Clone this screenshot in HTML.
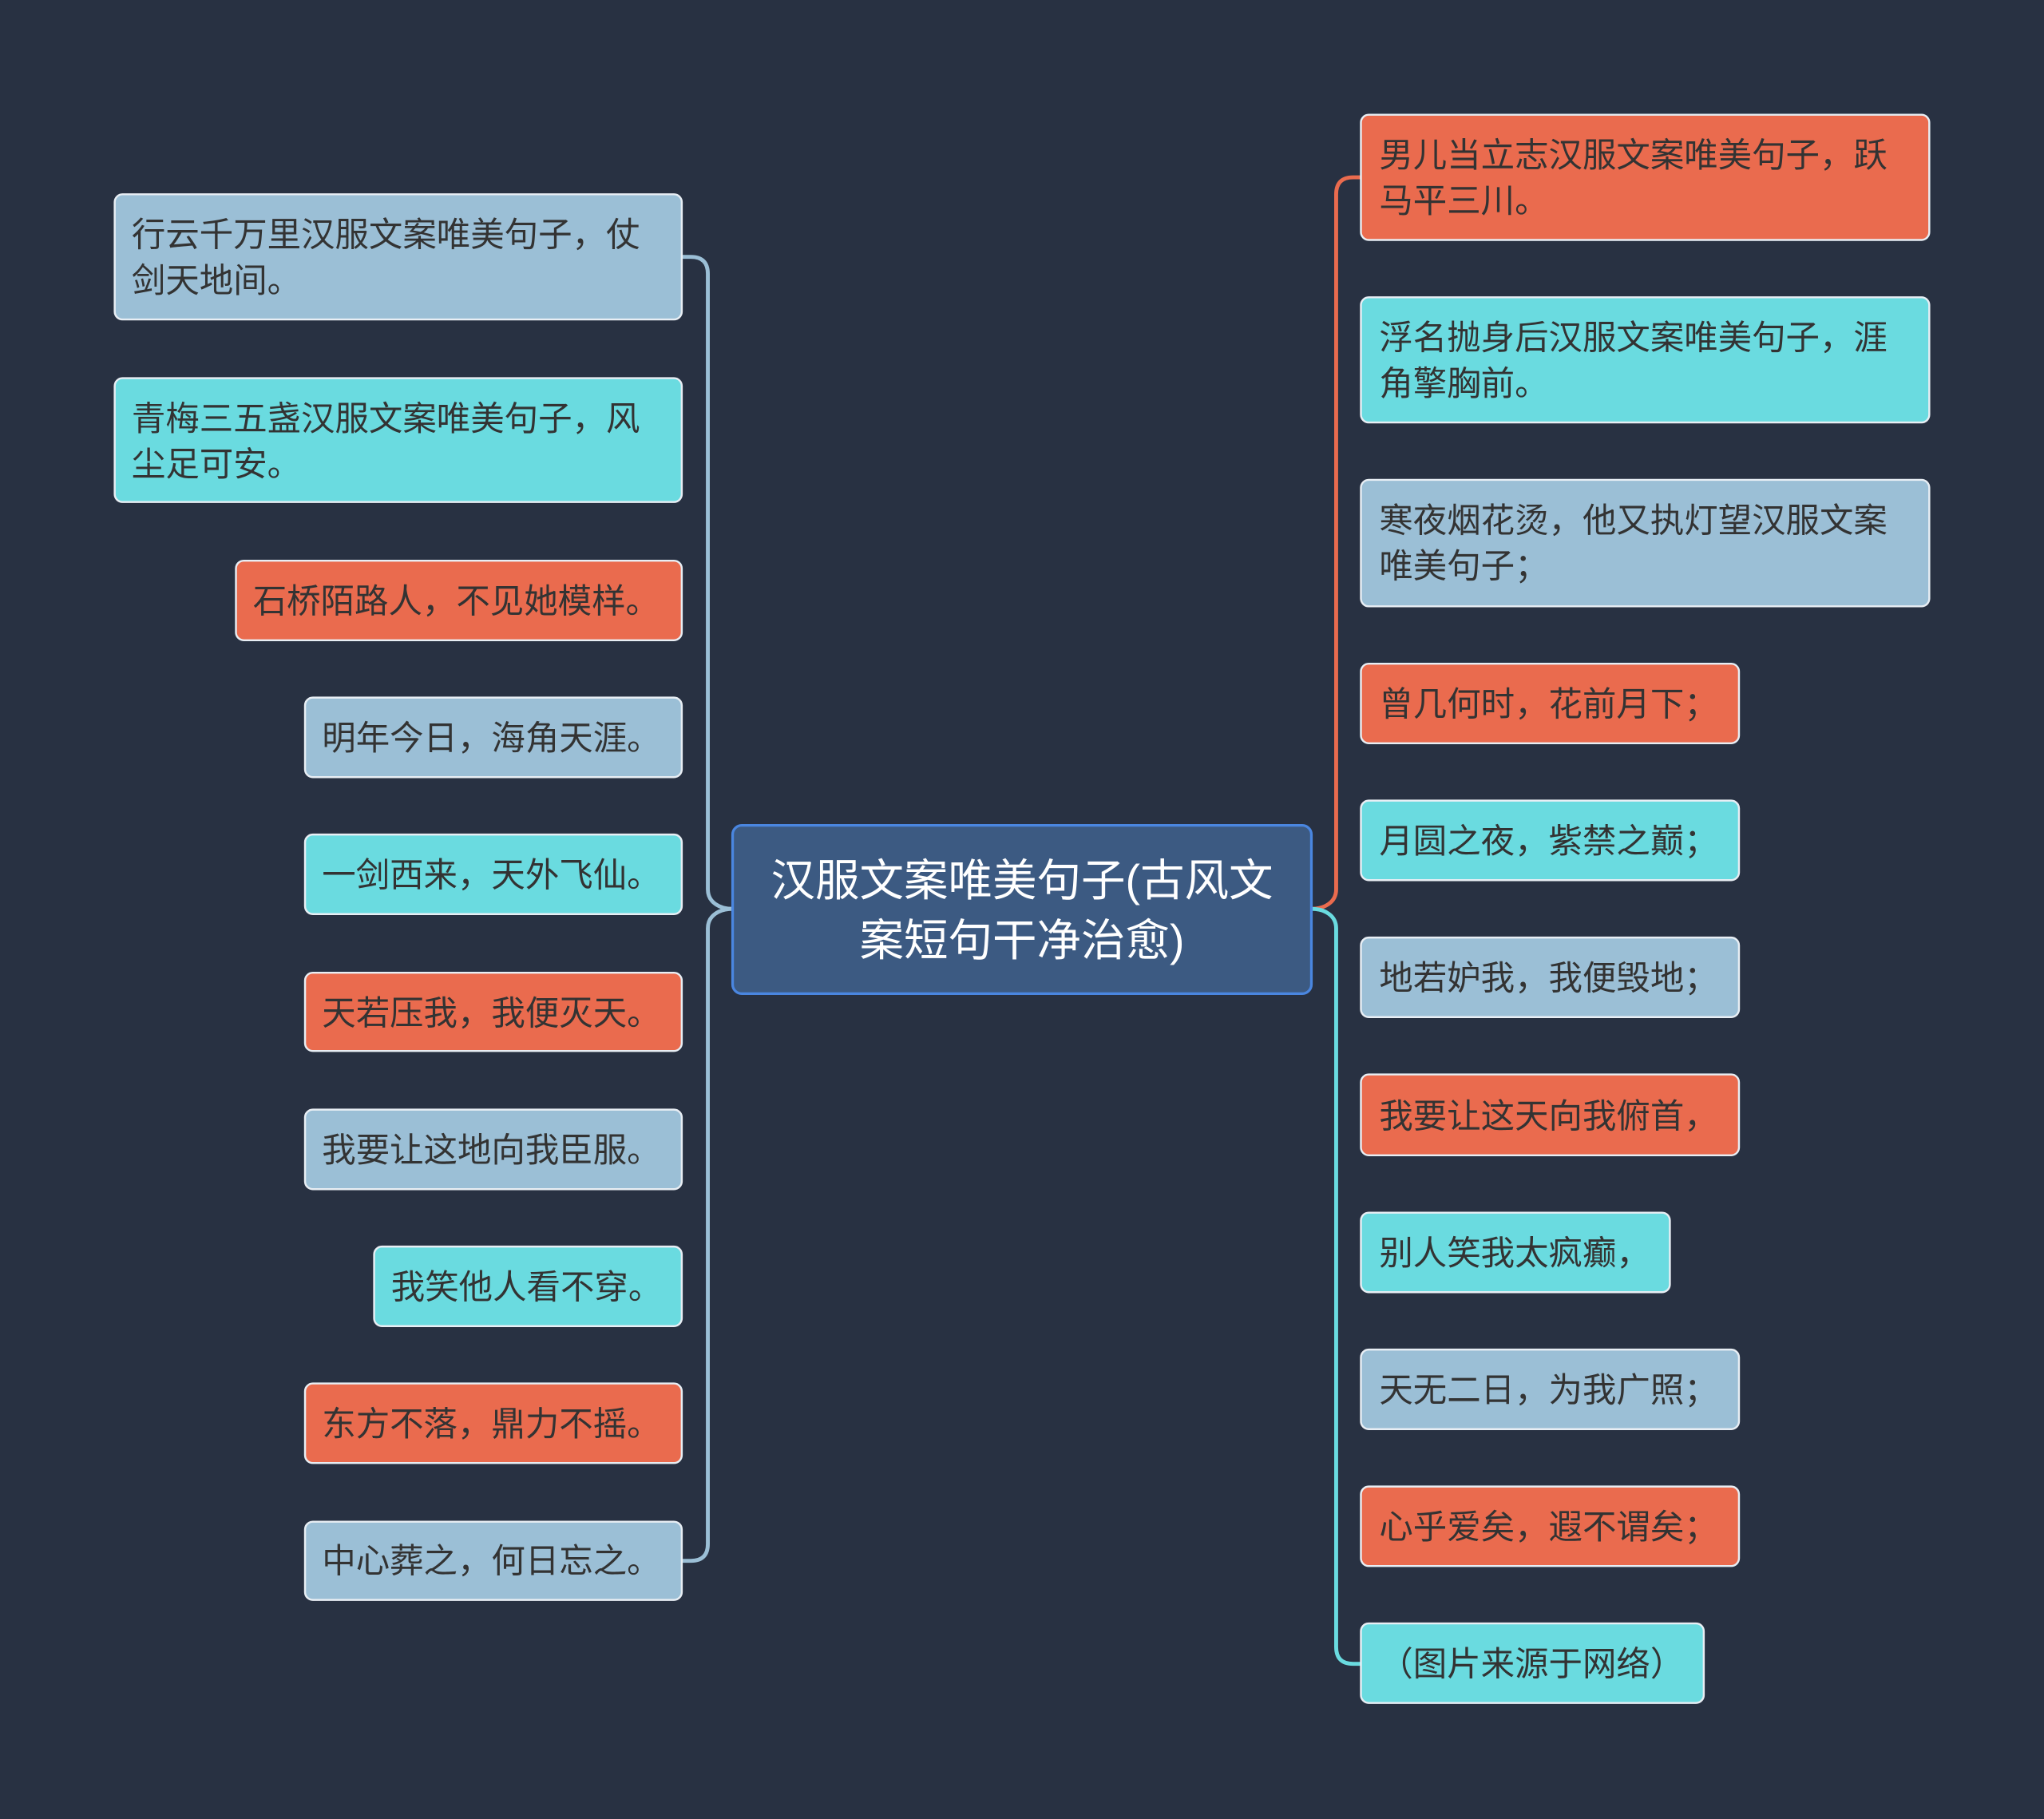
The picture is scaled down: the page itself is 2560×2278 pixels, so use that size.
<!DOCTYPE html>
<html><head><meta charset="utf-8"><style>
html,body{margin:0;padding:0;background:#283142;}
svg{display:block}
text{font-family:"Liberation Sans","Noto Sans CJK SC",sans-serif;}
</style></head><body>
<svg width="2560" height="2278" viewBox="0 0 1568 1395" preserveAspectRatio="none" xmlns="http://www.w3.org/2000/svg">
<rect width="1568" height="1395" fill="#283142"/>
<g fill="none" stroke-width="3">
<path d="M562,697 C552,697 543,692 543,682 L543,210 Q543,197 530,197 L523,197" stroke="#9bbfd6"/>
<path d="M562,697 C552,697 543,702 543,712 L543,1184 Q543,1197 530,1197 L523,1197" stroke="#9bbfd6"/>
<path d="M1006,697 C1016,697 1025,692 1025,682 L1025,149 Q1025,136 1038,136 L1044,136" stroke="#ea6b4e"/>
<path d="M1006,697 C1016,697 1025,702 1025,712 L1025,1263 Q1025,1276 1038,1276 L1044,1276" stroke="#6adbe0"/>
</g>
<rect x="562" y="633" width="444" height="129" rx="7" fill="#3c5a82" stroke="#4a86e0" stroke-width="2"/>
<text x="784" y="687" font-size="34" fill="#fff" text-anchor="middle">汉服文案唯美句子(古风文</text>
<text x="784" y="733" font-size="34" fill="#fff" text-anchor="middle">案短句干净治愈)</text>
<g stroke="#e8eef4" stroke-width="1.5" font-size="26" fill="#333">
<rect x="88" y="149" width="435" height="96" rx="6" fill="#9bbfd6"/>
<rect x="88" y="290" width="435" height="95" rx="6" fill="#6adbe0"/>
<rect x="181" y="430" width="342" height="61" rx="6" fill="#ea6b4e"/>
<rect x="234" y="535" width="289" height="61" rx="6" fill="#9bbfd6"/>
<rect x="234" y="640" width="289" height="61" rx="6" fill="#6adbe0"/>
<rect x="234" y="746" width="289" height="60" rx="6" fill="#ea6b4e"/>
<rect x="234" y="851" width="289" height="61" rx="6" fill="#9bbfd6"/>
<rect x="287" y="956" width="236" height="61" rx="6" fill="#6adbe0"/>
<rect x="234" y="1061" width="289" height="61" rx="6" fill="#ea6b4e"/>
<rect x="234" y="1167" width="289" height="60" rx="6" fill="#9bbfd6"/>
<rect x="1044" y="88" width="436" height="96" rx="6" fill="#ea6b4e"/>
<rect x="1044" y="228" width="436" height="96" rx="6" fill="#6adbe0"/>
<rect x="1044" y="368" width="436" height="97" rx="6" fill="#9bbfd6"/>
<rect x="1044" y="509" width="290" height="61" rx="6" fill="#ea6b4e"/>
<rect x="1044" y="614" width="290" height="61" rx="6" fill="#6adbe0"/>
<rect x="1044" y="719" width="290" height="61" rx="6" fill="#9bbfd6"/>
<rect x="1044" y="824" width="290" height="62" rx="6" fill="#ea6b4e"/>
<rect x="1044" y="930" width="237" height="61" rx="6" fill="#6adbe0"/>
<rect x="1044" y="1035" width="290" height="61" rx="6" fill="#9bbfd6"/>
<rect x="1044" y="1140" width="290" height="61" rx="6" fill="#ea6b4e"/>
<rect x="1044" y="1245" width="263" height="61" rx="6" fill="#6adbe0"/>
</g>
<g font-size="26" fill="#333">
<text x="101" y="189">行云千万里汉服文案唯美句子，仗</text>
<text x="101" y="224">剑天地间。</text>
<text x="101" y="330">青梅三五盏汉服文案唯美句子，风</text>
<text x="101" y="365">尘足可安。</text>
<text x="194" y="470">石桥陌路人，不见她模样。</text>
<text x="247" y="575">明年今日，海角天涯。</text>
<text x="247" y="680">一剑西来，天外飞仙。</text>
<text x="247" y="786">天若压我，我便灭天。</text>
<text x="247" y="891">我要让这地向我臣服。</text>
<text x="300" y="996">我笑他人看不穿。</text>
<text x="247" y="1101">东方不落，鼎力不摇。</text>
<text x="247" y="1206">中心葬之，何日忘之。</text>
<text x="1058" y="128">男儿当立志汉服文案唯美句子，跃</text>
<text x="1058" y="163">马平三川。</text>
<text x="1058" y="268">浮名抛身后汉服文案唯美句子，涯</text>
<text x="1058" y="303">角擎胸前。</text>
<text x="1058" y="408">寒夜烟花烫，他又执灯望汉服文案</text>
<text x="1058" y="443">唯美句子；</text>
<text x="1058" y="549">曾几何时，花前月下；</text>
<text x="1058" y="654">月圆之夜，紫禁之巅；</text>
<text x="1058" y="759">地若妒我，我便毁地；</text>
<text x="1058" y="865">我要让这天向我俯首，</text>
<text x="1058" y="970">别人笑我太疯癫，</text>
<text x="1058" y="1075">天无二日，为我广照；</text>
<text x="1058" y="1180">心乎爱矣，遐不谓矣；</text>
<text x="1058" y="1285">（图片来源于网络）</text>
</g>
</svg>
</body></html>
